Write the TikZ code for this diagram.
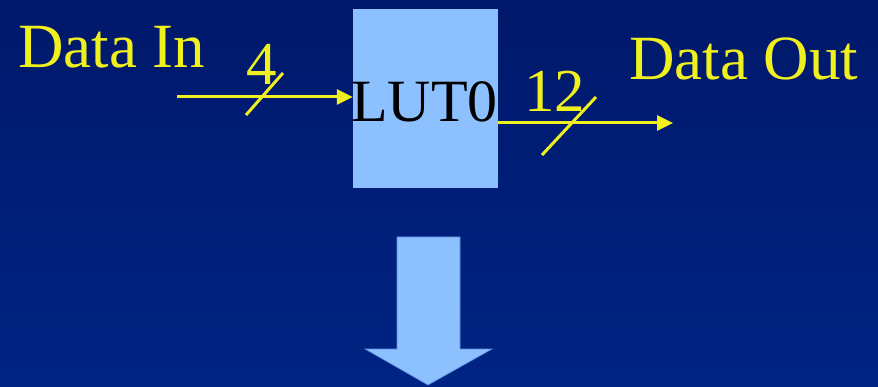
\documentclass[tikz,border=0pt]{standalone}
\usepackage{fontspec}
\setmainfont{Liberation Serif}
\usetikzlibrary{arrows.meta}
\definecolor{bgtop}{RGB}{0,24,106}
\definecolor{bgbot}{RGB}{0,36,132}
\definecolor{lutblue}{RGB}{140,192,255}
\definecolor{lutedge}{RGB}{90,140,220}
\definecolor{sigyellow}{RGB}{240,240,30}
\tikzset{
  lutbox/.style={fill=lutblue, draw=none, inner sep=0pt, minimum width=145pt, minimum height=179pt},
  bigtext/.style={font=\fontsize{63}{70}\selectfont, inner sep=0pt, anchor=base west},
  sig/.style={draw=sigyellow, line width=3pt, -{Triangle[length=16pt,width=15pt]}},
  slash/.style={draw=sigyellow, line width=3pt},
}
\begin{document}
\begin{tikzpicture}[x=1pt,y=-1pt]
\shade[top color=bgtop, bottom color=bgbot] (0,0) rectangle (878,387);
\useasboundingbox (0,0) rectangle (878,387);
% LUT box
\node[lutbox] (lut) at (425.5,98.5) {};
\node[bigtext, text=black, font=\fontsize{60}{70}\selectfont] (luttext) at (351,122) {LUT0};
% labels
\node[bigtext, text=sigyellow] (datain) at (18,68) {Data In};
\node[bigtext, text=sigyellow] (dataout) at (629,80) {Data Out};
\node[bigtext, text=sigyellow, font=\fontsize{61}{70}\selectfont] (four) at (246,85) {4};
\node[bigtext, text=sigyellow, font=\fontsize{61}{70}\selectfont] (twelve) at (524,112) {12};
% input connector
\coordinate (inStart) at (177,97);
\draw[sig] (inStart) -- (inStart -| lut.west);
\coordinate (inSlashA) at (246,115);
\coordinate (inSlashB) at (283,73);
\draw[slash] (inSlashA) -- (inSlashB);
% output connector
\coordinate (outEnd) at (673,123);
\draw[sig] (outEnd -| lut.east) -- (outEnd);
\coordinate (outSlashA) at (542,155);
\coordinate (outSlashB) at (596,97);
\draw[slash] (outSlashA) -- (outSlashB);
% big down arrow
\draw[fill=lutblue, draw=lutedge, line width=0.6pt]
  (397,237) -- (460,237) -- (460,349) -- (492,349) -- (428,385) -- (365,349) -- (397,349) -- cycle;
\end{tikzpicture}
\end{document}
